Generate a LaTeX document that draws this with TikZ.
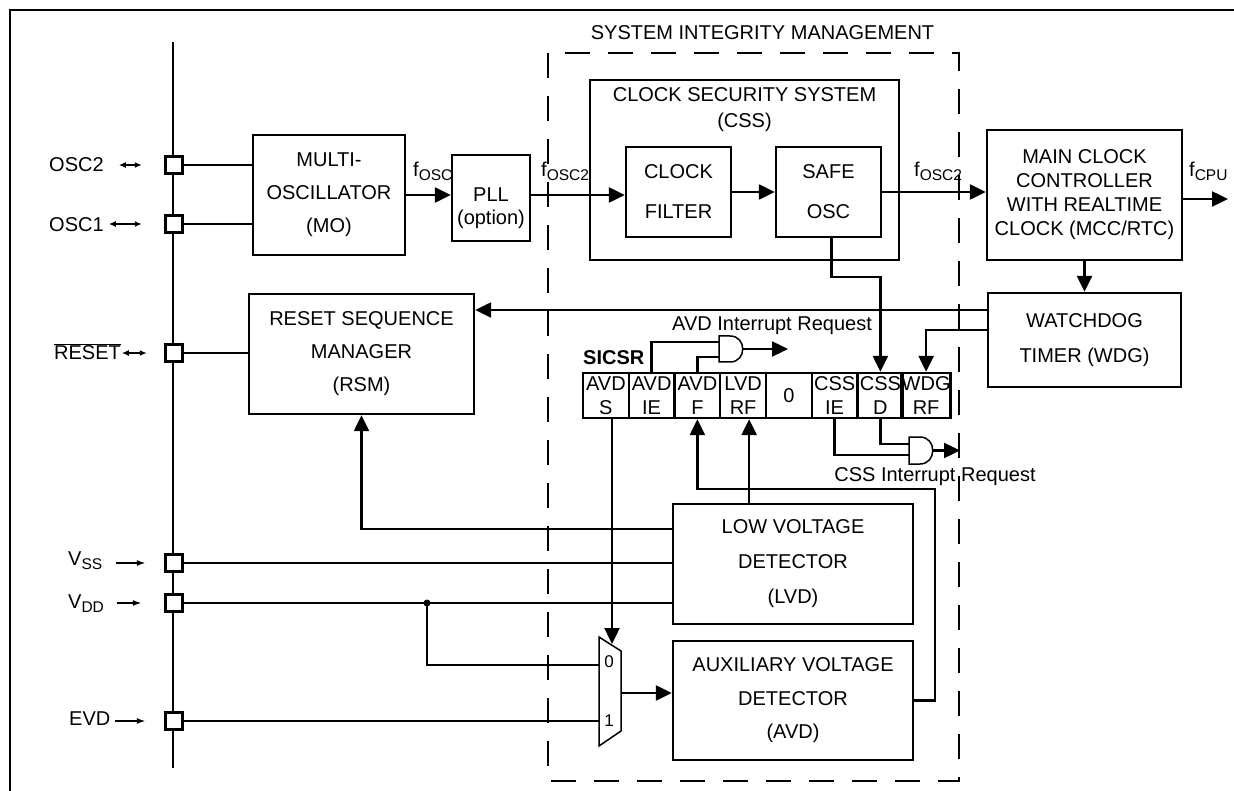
\documentclass[tikz,border=0pt]{standalone}
\usepackage{fontspec}
\setmainfont{Liberation Sans}
\usetikzlibrary{arrows.meta}
\newcommand{\idx}[1]{\raisebox{-4pt}{\fontsize{15.5}{15.5}\selectfont #1}}
\begin{document}
\begin{tikzpicture}[x=1pt,y=1pt,yscale=-1,xscale=1,line width=2.4pt,
  font=\fontsize{20}{24}\selectfont,
  blk/.style={draw, inner sep=0pt, align=center},
  pinbox/.style={draw, fill=white, minimum size=17pt, inner sep=0pt},
  cell/.style={draw, minimum width=45.75pt, minimum height=45pt, inner sep=0pt, align=center},
  lbl/.style={inner sep=0pt},
  arr/.style={-{Triangle[length=16pt,width=15pt]}},
  darr/.style={{Latex[length=7pt,width=6pt]}-{Latex[length=7pt,width=6pt]}, line width=1.6pt},
  inarr/.style={-{Latex[length=9pt,width=6pt]}, line width=1.8pt},
  gate/.style={line width=1.5pt},
  simdash/.style={dash pattern=on 25pt off 18pt}]
\useasboundingbox (0,0) rectangle (1234,791);

% frame and bus
\draw (10,791) -- (10,10) -- (1234,10);
\draw (173,42) -- (173,768);
\draw[simdash] (548,53) rectangle (959,781);
\node[lbl, anchor=base] (tsim) at (762.5,40) {SYSTEM INTEGRITY MANAGEMENT};

% pins
\node[pinbox] (posc2) at (174,165) {};
\node[pinbox] (posc1) at (174,224) {};
\node[pinbox] (preset) at (174,353) {};
\node[pinbox] (pvss) at (174,563) {};
\node[pinbox] (pvdd) at (174,603) {};
\node[pinbox] (pevd) at (174,721) {};

% pin labels
\node[lbl, anchor=base west] (losc2) at (48,172) {OSC2};
\node[lbl, anchor=base west] (losc1) at (48,232) {OSC1};
\node[lbl, anchor=base west] (lreset) at (53,360) {$\overline{\hbox{RESET}}$};
\node[lbl, anchor=base west] (lvss) at (67,565) {V\idx{SS}};
\node[lbl, anchor=base west] (lvdd) at (67,608) {V\idx{DD}};
\node[lbl, anchor=base west] (levd) at (68,725) {EVD};
\draw[darr] ([xshift=-45.5pt]posc2.west) -- ([xshift=-22.5pt]posc2.west);
\draw[darr] ([xshift=-55.5pt]posc1.west) -- ([xshift=-22.5pt]posc1.west);
\draw[darr] ([xshift=-42.5pt]preset.west) -- ([xshift=-17.5pt]preset.west);
\draw[inarr] ([xshift=-48.5pt]pvss.west) -- ([xshift=-18.5pt]pvss.west);
\draw[inarr] ([xshift=-47.5pt]pvdd.west) -- ([xshift=-22.5pt]pvdd.west);
\draw[inarr] ([xshift=-49pt]pevd.west) -- ([xshift=-18.5pt]pevd.west);

% blocks
\node[blk, minimum width=152pt, minimum height=120pt, font=\fontsize{20}{33}\selectfont] (mo) at (329,195) {MULTI-\\OSCILLATOR\\(MO)};
\node[blk, minimum width=78pt, minimum height=86pt] (pll) at (491,198) {};
\node[lbl, align=center, font=\fontsize{20}{23}\selectfont] (tpll) at (491,208) {PLL\\(option)};
\node[blk, minimum width=309pt, minimum height=180pt] (css) at (744.5,170) {};
\node[lbl, align=center, font=\fontsize{20}{26}\selectfont] (tcss) at (744.5,110) {CLOCK SECURITY SYSTEM\\(CSS)};
\node[blk, minimum width=105pt, minimum height=90pt, font=\fontsize{20}{40}\selectfont] (cflt) at (678.5,192) {CLOCK\\FILTER};
\node[blk, minimum width=105pt, minimum height=90pt, font=\fontsize{20}{40}\selectfont] (safe) at (828.5,192) {SAFE\\OSC};
\node[blk, minimum width=195pt, minimum height=130pt] (mcc) at (1084.5,195) {MAIN CLOCK\\CONTROLLER\\WITH REALTIME\\CLOCK (MCC/RTC)};
\node[blk, minimum width=193pt, minimum height=94pt, font=\fontsize{20}{35}\selectfont] (wdg) at (1084.5,340) {WATCHDOG\\TIMER (WDG)};
\node[blk, minimum width=225pt, minimum height=120pt, font=\fontsize{20}{33}\selectfont] (rsm) at (361.5,354) {RESET SEQUENCE\\MANAGER\\(RSM)};
\node[blk, minimum width=240pt, minimum height=120pt, font=\fontsize{20}{35}\selectfont] (lvd) at (793,564) {LOW VOLTAGE\\DETECTOR\\(LVD)};
\node[blk, minimum width=240pt, minimum height=119pt, font=\fontsize{20}{33.5}\selectfont] (avd) at (793,700.5) {AUXILIARY VOLTAGE\\DETECTOR\\(AVD)};

% clock labels
\node[lbl, anchor=base west] (tfosc) at (412,177) {f\idx{OSC}};
\node[lbl, anchor=base west] (tfoscb) at (540,177) {f\idx{OSC2}};
\node[lbl, anchor=base west] (tfoscc) at (913,177) {f\idx{OSC2}};
\node[lbl, anchor=base west] (tfcpu) at (1188,177) {f\idx{CPU}};

% SICSR register
\node[lbl, anchor=base west, font=\fontsize{20}{24}\selectfont\bfseries] (tsicsr) at (582,365) {SICSR};
\foreach \i/\txt in {1/{AVD\\S},2/{AVD\\IE},3/{AVD\\F},4/{LVD\\RF},5/0,6/{CSS\\IE},7/{CSS\\D},8/{WDG\\RF}}
  \node[cell] (r\i) at ({583+45.75*(\i-0.5)},395.5) {\txt};

% AND gates and mux
\draw[gate] (719,336) -- (730,336) .. controls (747,336) and (747,362) .. (730,362) -- (719,362) -- cycle;
\coordinate (gain1) at (719,342);
\coordinate (gain2) at (719,357);
\coordinate (gaout) at (743,349);
\coordinate (gaend) at (788,349);
\draw[gate] (909,437) -- (920,437) .. controls (937,437) and (937,464) .. (920,464) -- (909,464) -- cycle;
\coordinate (gbin1) at (909,444);
\coordinate (gbin2) at (909,455);
\coordinate (gbout) at (933,450.5);
\coordinate (gbend) at (960,450.5);
\draw[gate] (599,637) -- (621,651) -- (621,731) -- (599,746) -- cycle;
\node[lbl, font=\fontsize{17}{17}\selectfont] (tmux0) at (609,662) {0};
\node[lbl, font=\fontsize{17}{17}\selectfont] (tmux1) at (609,721) {1};
\coordinate (mux0) at (599,665);
\coordinate (mux1) at (599,721);
\coordinate (muxsel) at (612,644);
\coordinate (muxout) at (621,693);
\node[lbl, anchor=base] (tavdirq) at (772,331) {AVD Interrupt Request};
\node[lbl, anchor=base] (tcssirq) at (935,481) {CSS Interrupt Request};

% clock path
\draw[arr] (mo.east) -- (mo.east -| pll.west);
\coordinate (pllout) at (pll.east |- mo.east);
\draw[arr] (pllout) -- (pllout -| cflt.west);
\draw[arr] (cflt.east) -- (safe.west);
\draw[arr] (safe.east) -- (safe.east -| mcc.west);
\coordinate (fcpuend) at (1228,199);
\draw[arr] (mcc.east |- fcpuend) -- (fcpuend);
\draw[arr] (mcc.south) -- (wdg.north);

% pins to blocks
\draw (posc2) -- (posc2 -| mo.west);
\draw (posc1) -- (posc1 -| mo.west);
\draw (preset) -- (preset -| rsm.west);
\draw (pvss) -- (pvss -| lvd.west);
\draw (pvdd) -- (pvdd -| lvd.west);
\coordinate (vddot) at (427,603);
\fill (vddot) circle (3.5pt);
\draw (vddot) |- (mux0);
\draw (pevd) -- (mux1);
\draw[arr] (r1.south -| muxsel) -- (muxsel);
\draw[arr] (muxout) -- (muxout -| avd.west);

% resets and flags
\coordinate (wdgrst) at ([yshift=-30pt]wdg.west);
\draw[arr] (wdgrst) -- (wdgrst -| rsm.east);
\draw[arr] ([yshift=-10pt]wdg.west) -| (r8.north);
\draw[arr] ([xshift=3pt]safe.south) -- ++(0,39) -| (r7.north);
\coordinate (lvdrst) at ([yshift=-35pt]lvd.west);
\draw[arr] (lvdrst) -| (rsm.south);
\coordinate (lvdrf) at ([xshift=6pt]r4.south);
\draw[arr] (lvd.north -| lvdrf) -- (lvdrf);
\coordinate (avdret) at (935,489);
\draw[arr] (avd.east) -| (avdret) -| (r3.south);

% interrupt requests
\draw (r2.north) |- (gain1);
\draw (r3.north) |- (gain2);
\draw[arr] (gaout) -- (gaend);
\draw (r7.south) |- (gbin1);
\draw (r6.south) |- (gbin2);
\draw[arr] (gbout) -- (gbend);

\end{tikzpicture}
\end{document}
